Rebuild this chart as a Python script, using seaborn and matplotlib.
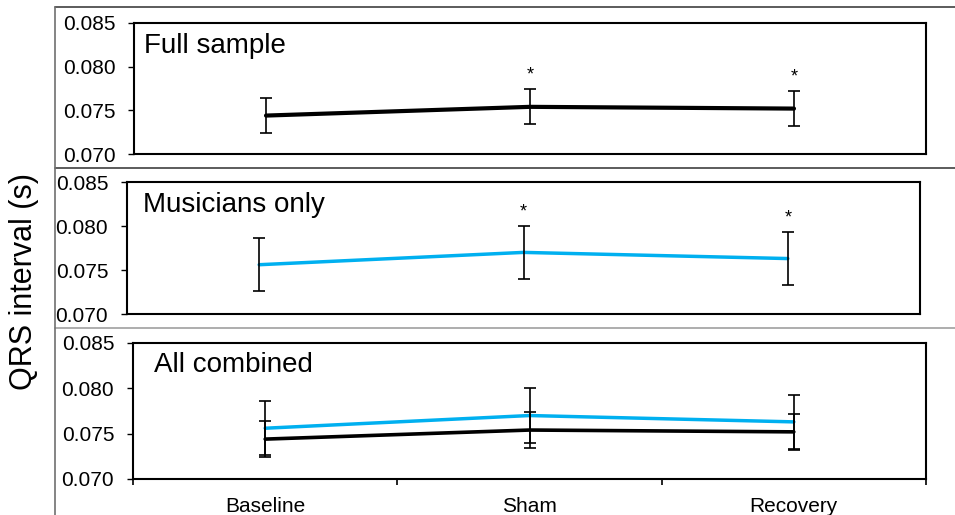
import pandas as pd
import seaborn as sns
import matplotlib.pyplot as plt
from matplotlib.lines import Line2D

# x축 범주
phases = ['Baseline', 'Sham', 'Recovery']

# 전체 표본 (평균, 오차, 유의성 표시)
full_mean = [0.0744, 0.0754, 0.0752]
full_err = [0.0020, 0.0020, 0.0020]
full_sig = [False, True, True]

# 음악가만
mus_mean = [0.0756, 0.0770, 0.0763]
mus_err = [0.0030, 0.0030, 0.0030]
mus_sig = [False, True, True]

panel_titles = ['Full sample', 'Musicians only', 'All combined']
y_ticks = [0.070, 0.075, 0.080, 0.085]
y_label = 'QRS interval (s)'

BLACK = '#000000'
BLUE = '#00B0F0'

full_df = pd.DataFrame({'phase': phases, 'qrs': full_mean, 'err': full_err})
mus_df = pd.DataFrame({'phase': phases, 'qrs': mus_mean, 'err': mus_err})

sns.set_style('white')
plt.rcParams['font.family'] = ['Liberation Sans', 'DejaVu Sans']
plt.rcParams['text.color'] = 'black'
plt.rcParams['xtick.color'] = 'black'
plt.rcParams['ytick.color'] = 'black'
plt.rcParams['axes.labelcolor'] = 'black'

W, H = 955, 515
fig = plt.figure(figsize=(W / 100, H / 100), dpi=100)


def px_rect(left, right, top, bottom):
    return [left / W, 1 - bottom / H, (right - left) / W, (bottom - top) / H]


ax1 = fig.add_axes(px_rect(134, 926, 23, 154))
ax2 = fig.add_axes(px_rect(127, 920, 182, 314))
ax3 = fig.add_axes(px_rect(133, 926, 343, 479))


def draw_series(ax, df, color, lw):
    sns.lineplot(data=df, x='phase', y='qrs', color=color, linewidth=lw,
                 sort=False, ax=ax, zorder=2)
    ax.errorbar(df['phase'], df['qrs'], yerr=df['err'], fmt='none',
                ecolor='black', elinewidth=1.2, capsize=4, capthick=1.2,
                zorder=3)


def draw_stars(ax, df, sig):
    for i, s in enumerate(sig):
        if s:
            ax.annotate('*', xy=(i, df['qrs'][i] + df['err'][i]),
                        xytext=(0, 7), textcoords='offset points',
                        ha='center', va='baseline', fontsize=13)


draw_series(ax1, full_df, BLACK, 3.0)
draw_stars(ax1, full_df, full_sig)

draw_series(ax2, mus_df, BLUE, 2.5)
draw_stars(ax2, mus_df, mus_sig)

draw_series(ax3, full_df, BLACK, 2.6)
draw_series(ax3, mus_df, BLUE, 2.5)

title_pos = [(0.012, 0.771), (0.020, 0.773), (0.0265, 0.787)]

for ax, title, (tx, ty) in zip([ax1, ax2, ax3], panel_titles, title_pos):
    ax.set_xlim(-0.5, 2.5)
    ax.set_ylim(0.070, 0.085)
    ax.set_yticks(y_ticks)
    ax.set_yticklabels([f'{t:.3f}' for t in y_ticks], fontsize=15)
    ax.tick_params(axis='y', direction='out', length=4.5, width=1, left=True,
                   pad=9, colors='black')
    ax.set_xlabel('')
    ax.set_ylabel('')
    for sp in ax.spines.values():
        sp.set_visible(True)
        sp.set_color('black')
        sp.set_linewidth(1.5)
    ax.text(tx, ty, title, transform=ax.transAxes, fontsize=20,
            va='baseline', ha='left', color='black')

for ax in [ax1, ax2]:
    ax.tick_params(axis='x', bottom=False, labelbottom=False)

# 아래 패널: 범주 경계 눈금 + 범주 이름
ax3.set_xticks([-0.5, 0.5, 1.5, 2.5])
ax3.set_xticklabels([])
ax3.set_xticks([0, 1, 2], minor=True)
ax3.set_xticklabels(phases, minor=True, fontsize=15)
ax3.tick_params(axis='x', which='major', bottom=True, direction='out',
                length=4.5, width=1.2, colors='black')
ax3.tick_params(axis='x', which='minor', bottom=True, length=0, pad=13,
                colors='black')

# 엑셀 차트 영역 테두리
def fig_line(x0, x1, y0, y1, color):
    fig.add_artist(Line2D([x0 / W, x1 / W], [1 - y0 / H, 1 - y1 / H],
                          color=color, linewidth=1.2,
                          transform=fig.transFigure))


fig_line(55, W, 7, 7, '#404040')
fig_line(55, W, 168, 168, '#404040')
fig_line(55, W, 328, 328, '#A0A0A0')
fig_line(55, 55, 7, H, '#707070')

fig.text(24 / W, 1 - 282 / H, y_label, rotation=90, fontsize=22,
         ha='center', va='center', color='black')

fig.savefig('out.png', dpi=100)
